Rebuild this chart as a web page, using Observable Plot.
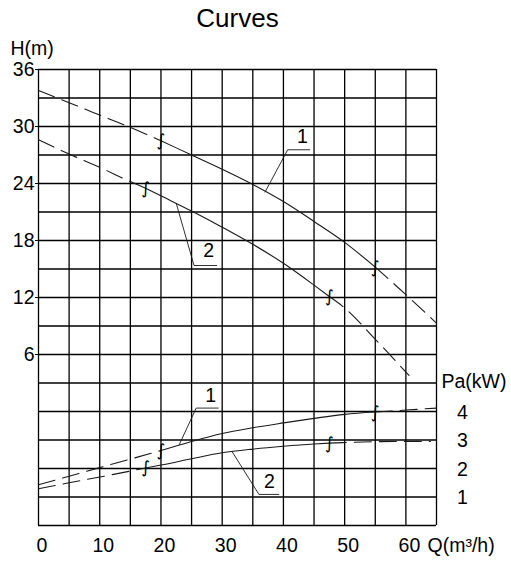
<!DOCTYPE html>
<html>
<head>
<meta charset="utf-8">
<script src="https://cdn.jsdelivr.net/npm/d3@7"></script>
<script src="https://cdn.jsdelivr.net/npm/@observablehq/plot@0.6"></script>
<style>
  html, body { margin: 0; padding: 0; background: #fff; }
  #chart svg { display: block; }
</style>
</head>
<body>
<div id="chart"></div>
<script>
// ---- data ----
const title = "Curves";
const qTicks = [0, 10, 20, 30, 40, 50, 60];
const hTicks = [6, 12, 18, 24, 30, 36];
const paTicks = [1, 2, 3, 4];
const qGrid = [0, 5, 10, 15, 20, 25, 30, 35, 40, 45, 50, 55, 60, 65];
const hGrid = [-12, -9, -6, -3, 0, 3, 6, 9, 12, 15, 18, 21, 24, 27, 30, 33, 36];

// Head curve 1
const qH1 = [0, 5, 10, 15, 20, 25, 30, 35, 40, 45, 50, 55, 60, 65];
const H1  = [33.8, 32.5, 31.2, 29.9, 28.5, 27.0, 25.5, 23.9, 22.1, 20.0, 17.8, 15.2, 12.3, 9.3];
const H1solid = [20, 55];
// Head curve 2
const qH2 = [0, 5, 10, 15, 17.5, 20, 25, 30, 35, 40, 45, 47.5, 50, 55, 60.5];
const H2  = [28.6, 27.1, 25.7, 24.2, 23.5, 22.7, 21.1, 19.4, 17.6, 15.6, 13.3, 12.1, 10.9, 7.6, 3.8];
const H2solid = [17.5, 47.5];
// Power curve 1
const qP1 = [0, 5, 10, 15, 20, 25, 30, 35, 40, 45, 50, 55, 60, 65];
const P1  = [1.43, 1.73, 2.03, 2.33, 2.63, 2.95, 3.23, 3.43, 3.60, 3.76, 3.90, 3.98, 4.05, 4.12];
const P1solid = [20, 55];
// Power curve 2
const qP2 = [0, 5, 10, 15, 17.5, 20, 25, 30, 35, 40, 45, 47.5, 50, 55, 60, 64];
const P2  = [1.29, 1.50, 1.70, 1.91, 2.02, 2.12, 2.34, 2.55, 2.68, 2.78, 2.86, 2.89, 2.91, 2.94, 2.95, 2.95];
const P2solid = [17.5, 47.5];

// Callout leaders: [curve point, elbow, end], label position
const calloutLabels = ["1", "2", "1", "2"];
const calloutKind = ["H", "H", "P", "P"];
const calloutQ = [[37, 40.7, 44.3], [22.5, 25.4, 29.1], [23.0, 25.75, 29.35], [31.6, 36.0, 39.25]];
const calloutV = [[23.1, 27.55, 27.55], [21.9, 15.37, 15.37], [2.84, 4.12, 4.12], [2.60, 1.09, 1.09]];
const calloutTextQ = [43.1, 27.8, 28.1, 37.7];
const calloutTextV = [28.9, 16.9, 4.56, 1.52];

// ---- helpers ----
const paToY = pa => pa * 3 - 12;   // power axis shares the grid: 4 kW at H=0, 0 kW at bottom
function rows(qs, vs, conv) { return qs.map((q, i) => ({q, y: conv ? conv(vs[i]) : vs[i]})); }
function split(data, [lo, hi]) {
  return {
    dashA: data.filter(d => d.q <= lo),
    solid: data.filter(d => d.q >= lo && d.q <= hi),
    dashB: data.filter(d => d.q >= hi)
  };
}
const curves = [
  split(rows(qH1, H1), H1solid),
  split(rows(qH2, H2), H2solid),
  split(rows(qP1, P1, paToY), P1solid),
  split(rows(qP2, P2, paToY), P2solid)
];
const breakMarks = [];
[[qH1, H1, H1solid, null], [qH2, H2, H2solid, null], [qP1, P1, P1solid, paToY], [qP2, P2, P2solid, paToY]]
  .forEach(([qs, vs, s, conv]) => s.forEach(b => {
    const i = qs.indexOf(b);
    breakMarks.push({q: b, y: conv ? conv(vs[i]) : vs[i]});
  }));

const leaders = [];
calloutQ.forEach((qs, k) => qs.forEach((q, j) => {
  const v = calloutV[k][j];
  leaders.push({k, q, y: calloutKind[k] === "P" ? paToY(v) : v});
}));
const calloutText = calloutLabels.map((t, k) => ({
  t, q: calloutTextQ[k],
  y: calloutKind[k] === "P" ? paToY(calloutTextV[k]) : calloutTextV[k]
}));

const font = "'Liberation Sans', Arial, Helvetica, sans-serif";
const fs = 19.5;
const lineStyle = {x: "q", y: "y", stroke: "#1a1a1a", strokeWidth: 1.1, curve: "monotone-x"};
const dash = "17,8";

const marks = [
  Plot.ruleX(qGrid, {stroke: "#000", strokeWidth: 1.3}),
  Plot.ruleY(hGrid, {stroke: "#000", strokeWidth: 1.3}),
  Plot.axisY(hTicks, {anchor: "left", label: null, tickSize: 3, tickPadding: 1, fontSize: fs, stroke: "#000"}),
  Plot.axisX(qTicks, {anchor: "bottom", label: null, tickSize: 0, tickPadding: 13, fontSize: fs, dx: 3.5}),
  Plot.text(paTicks, {y: d => paToY(d), text: d => String(d), frameAnchor: "right", dx: 26, dy: 1, textAnchor: "middle", lineAnchor: "middle", fontSize: fs, fill: "#000"}),
  Plot.text(["Pa(kW)"], {y: [paToY(5.05)], frameAnchor: "right", dx: 5, textAnchor: "start", lineAnchor: "middle", fontSize: fs, fill: "#000"}),
  Plot.text(["Q(m³/h)"], {frameAnchor: "bottom-right", dx: -9, dy: 20, textAnchor: "start", lineAnchor: "middle", fontSize: fs, fill: "#000"}),
  Plot.text(["H(m)"], {frameAnchor: "top-left", dx: -28, dy: -20.5, textAnchor: "start", lineAnchor: "middle", fontSize: fs, fill: "#000"}),
  Plot.text([title], {frameAnchor: "top", dy: -51, lineAnchor: "middle", fontSize: 26, fill: "#000"}),
];
curves.forEach(c => {
  marks.push(Plot.line(c.dashA, {...lineStyle, strokeDasharray: dash}));
  marks.push(Plot.line(c.solid, {...lineStyle}));
  marks.push(Plot.line(c.dashB, {...lineStyle, strokeDasharray: dash}));
});
marks.push(
  Plot.line(leaders, {x: "q", y: "y", z: "k", stroke: "#1a1a1a", strokeWidth: 0.9}),
  Plot.text(calloutText, {x: "q", y: "y", text: "t", fontSize: fs, fill: "#000"}),
  Plot.text(breakMarks, {x: "q", y: "y", text: () => "∫", fontSize: 17, fill: "#000", fontFamily: "'DejaVu Sans', sans-serif"})
);

const chart = Plot.plot({
  width: 511,
  height: 562,
  marginLeft: 38,
  marginRight: 75,
  marginTop: 69,
  marginBottom: 37,
  style: {fontFamily: font, fontSize: fs + "px", background: "#fff", color: "#000", overflow: "visible"},
  x: {domain: [0, 65], axis: null},
  y: {domain: [-12, 36], axis: null},
  marks
});
document.getElementById("chart").appendChild(chart);
</script>
</body>
</html>
